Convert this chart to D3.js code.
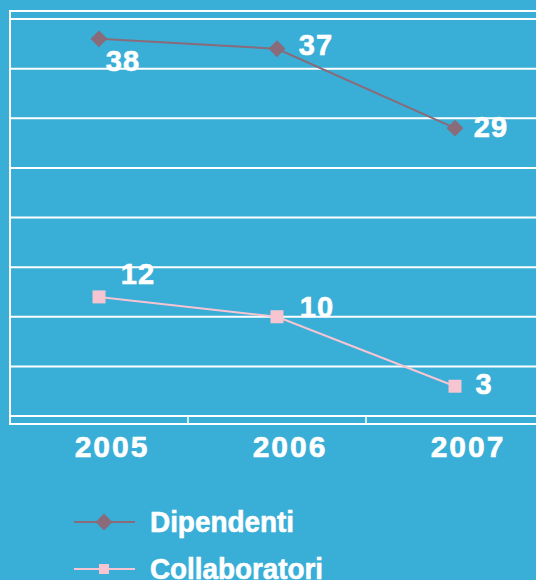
<!DOCTYPE html>
<html><head><meta charset="utf-8">
<script src="https://cdn.jsdelivr.net/npm/d3@7"></script>
<style>
html,body{margin:0;padding:0;background:#39aed6;overflow:hidden}
svg{display:block}
text{font-family:"Liberation Sans",Arial,sans-serif;font-weight:bold;fill:#fff;stroke:#fff;stroke-width:0.6px}
</style></head>
<body>
<script>
const years = ["2005","2006","2007"];
const dipendenti = [38,37,29];
const collaboratori = [12,10,3];
const seriesNames = ["Dipendenti","Collaboratori"];
const yTicks = [0,5,10,15,20,25,30,35,40];
// label offsets (dx, dy) relative to each point
const dipLabelOff = [[24,32],[39,6],[36,9]];
const colLabelOff = [[39,-13],[40,0],[29,8]];

(function(){
const W=536,H=580;
const bg="#39aed6", dipColor="#8a6b7a", colColor="#f6c5d1";
const svg=d3.select("body").append("svg").attr("width",W).attr("height",H);
svg.append("rect").attr("width",W).attr("height",H).attr("fill",bg);

const pLeft=10, pRight=544, pTop=11, axisY=424;
const x=d3.scaleBand().domain(years).range([pLeft,pRight]);
const xc=d=>x(d)+x.bandwidth()/2;
const y=d3.scaleLinear().domain([0,40]).range([416,19]);

// grid lines
svg.append("g").selectAll("line").data(yTicks).join("line")
  .attr("x1",pLeft).attr("x2",W).attr("y1",d=>y(d)).attr("y2",d=>y(d))
  .attr("stroke","#fff").attr("stroke-width",2);
// top frame line
svg.append("line").attr("x1",pLeft).attr("x2",W).attr("y1",pTop).attr("y2",pTop).attr("stroke","#fff").attr("stroke-width",2);
// left axis
svg.append("line").attr("x1",pLeft).attr("x2",pLeft).attr("y1",pTop-1).attr("y2",axisY+1).attr("stroke","#fff").attr("stroke-width",2);
// bottom axis
const xAxis=d3.axisBottom(x).tickSize(0).tickFormat("");
const gx=svg.append("g").attr("transform",`translate(0,${axisY})`).call(xAxis);
gx.select(".domain").remove();
svg.append("line").attr("x1",pLeft).attr("x2",W).attr("y1",axisY).attr("y2",axisY).attr("stroke","#fff").attr("stroke-width",2);
// band separator ticks
svg.append("g").selectAll("line").data(years.slice(1)).join("line")
  .attr("x1",d=>x(d)).attr("x2",d=>x(d)).attr("y1",y(0)).attr("y2",axisY)
  .attr("stroke","#fff").attr("stroke-width",1.5);
// year labels
svg.append("g").selectAll("text").data(years).join("text")
  .attr("x",d=>xc(d)+13).attr("y",457).attr("text-anchor","middle")
  .attr("font-size",30).attr("letter-spacing",2).text(d=>d);

const line=d3.line().x((d,i)=>xc(years[i])).y(d=>y(d));
// dipendenti
svg.append("path").datum(dipendenti).attr("d",line).attr("fill","none").attr("stroke",dipColor).attr("stroke-width",2);
const diamond=d3.symbol().type(d3.symbolDiamond2).size(180);
svg.append("g").selectAll("path").data(dipendenti).join("path")
  .attr("d",diamond).attr("fill",dipColor)
  .attr("transform",(d,i)=>`translate(${xc(years[i])},${y(d)})`);
// collaboratori
svg.append("path").datum(collaboratori).attr("d",line).attr("fill","none").attr("stroke",colColor).attr("stroke-width",2);
svg.append("g").selectAll("rect").data(collaboratori).join("rect")
  .attr("x",(d,i)=>xc(years[i])-6.5).attr("y",d=>y(d)-6.5).attr("width",13).attr("height",13).attr("fill",colColor);

// value labels
svg.append("g").selectAll("text").data(dipendenti).join("text")
  .attr("x",(d,i)=>xc(years[i])+dipLabelOff[i][0]).attr("y",(d,i)=>y(d)+dipLabelOff[i][1])
  .attr("text-anchor","middle").attr("font-size",29).attr("letter-spacing",1).text(d=>d);
svg.append("g").selectAll("text").data(collaboratori).join("text")
  .attr("x",(d,i)=>xc(years[i])+colLabelOff[i][0]).attr("y",(d,i)=>y(d)+colLabelOff[i][1])
  .attr("text-anchor","middle").attr("font-size",29).attr("letter-spacing",1).text(d=>d);

// legend
const lg=svg.append("g");
const legY=[522,569];
const legW=[144,173];
const colors=[dipColor,colColor];
seriesNames.forEach((n,i)=>{
  lg.append("line").attr("x1",74).attr("x2",135).attr("y1",legY[i]).attr("y2",legY[i]).attr("stroke",colors[i]).attr("stroke-width",2);
  if(i===0){
    lg.append("path").attr("d",diamond).attr("fill",colors[i]).attr("transform",`translate(104,${legY[i]})`);
  } else {
    lg.append("rect").attr("x",99).attr("y",legY[i]-5).attr("width",10).attr("height",10).attr("fill",colors[i]);
  }
  lg.append("text").attr("x",150).attr("y",legY[i]+10).attr("font-size",29)
    .attr("textLength",legW[i]).attr("lengthAdjust","spacingAndGlyphs").text(n);
});
})();
</script>
</body></html>
